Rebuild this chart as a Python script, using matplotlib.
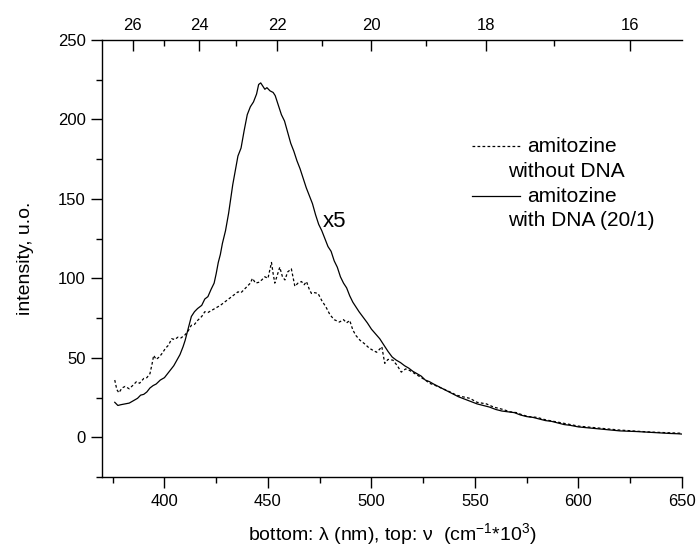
import numpy as np
import matplotlib
matplotlib.use('Agg')
import matplotlib.pyplot as plt
from matplotlib.ticker import MultipleLocator, FixedLocator

plt.rcParams['font.family'] = ['Liberation Sans', 'DejaVu Sans']
plt.rcParams['mathtext.default'] = 'regular'
plt.rcParams['font.size'] = 14

# amitozine with DNA (20/1), x5
wl_dna = [376, 377.5, 379, 381, 383, 385, 387, 388.5, 390, 391.5, 393, 394.5, 396, 398,
          400, 401.5, 403, 404.5, 406, 407.5, 409, 410, 411, 412, 413, 414.5, 416, 418,
          419.5, 421, 422.5, 424, 425, 426, 427, 428, 429.5, 431, 432, 433, 434.5, 435.5,
          437, 438.5, 440, 441.5, 443, 444.5, 445.5, 446.5, 447.5, 448.5, 449.5, 451,
          452.5, 453.5, 455, 456.5, 458, 459.5, 461, 462.5, 464, 465.5, 467, 468.5, 470,
          471.5, 473, 474.5, 476, 477.5, 479, 480.5, 482, 483.5, 485, 486.5, 488, 489.5,
          491, 492.5, 494, 496, 498, 500, 502, 504, 506, 508, 510, 512, 514, 516, 518,
          520, 522, 524, 526, 528, 530, 533, 536, 539, 542, 545, 548, 551, 554, 557, 560,
          563, 566, 569, 572, 575, 578, 581, 584, 587, 590, 593, 596, 600, 604, 608, 612,
          616, 620, 624, 628, 632, 636, 640, 644, 648, 650]
int_dna = [22, 20, 20.5, 21, 21.5, 23, 24.5, 26.5, 27, 28.5, 31, 32.5, 33.5, 36,
           37.5, 40, 42.5, 45, 48.5, 52, 57, 61, 66, 71, 76, 79, 81, 83,
           87, 88.5, 93, 97, 103, 110, 115, 122, 130, 141, 150, 159, 170, 177,
           182, 193, 203, 208, 211, 216, 222, 223, 221, 219, 220, 218,
           217, 215, 209, 203, 199, 192, 185, 180, 174, 169, 163, 157, 152,
           147, 140, 134, 130, 125, 120, 117, 111, 107, 101, 97, 94, 89,
           85, 82, 79, 75.5, 72, 68, 65, 62, 58, 54, 50.5, 48.5, 47, 45, 43.5,
           41.5, 40, 38.5, 36, 35, 33.5, 31.5, 29.5, 27.5, 25.5, 24, 22.5, 21, 20, 19, 17.5,
           16.5, 16, 15.5, 14, 13, 12.5, 11.5, 10.5, 10, 9, 8, 7.5, 6.5, 6, 5.5, 5,
           4.5, 4, 3.8, 3.6, 3.3, 3, 2.7, 2.4, 2.2, 2]

# amitozine without DNA
wl_free = [376, 377, 378, 379.5, 381, 383, 385, 386.5, 388, 390, 391.5, 393, 394, 394.8,
           396, 397.5, 399, 400.5, 402, 403.5, 405, 406.5, 408, 410, 411.5, 413, 414.5,
           416, 418, 419.5, 421, 423, 425, 427, 429, 430.5, 432, 434, 435.5, 437, 438.5,
           440, 441.5, 442.5, 444, 445.5, 447, 448.5, 450, 451.7, 452.5, 453.3, 454.5,
           455.7, 457, 458.2, 459.5, 461.3, 462.2, 463, 464.5, 466.2, 467.5, 468.6, 470,
           471, 472.5, 474.2, 476, 478, 480, 482, 484.5, 486.5, 488, 489.5, 491, 492.5,
           494.5, 496.5, 499, 501, 502.5, 504, 505, 506.4, 508, 510.4, 512.5, 514.4, 516.5,
           518.5, 521, 523.5, 526, 528, 531, 534.5, 538, 541, 544, 547.5, 551, 555.5, 559,
           563.5, 567, 570, 573, 576, 580, 584, 588, 592, 596, 600, 604, 608, 612, 616,
           620, 624, 628, 632, 636, 640, 644, 648, 650]
int_free = [36, 30, 28, 31, 32, 30.5, 33, 35, 34, 37, 37.5, 40, 46, 51.5,
            49, 50.5, 53, 56, 58, 62, 61.5, 63, 62.5, 64.5, 67, 70.5, 71,
            73.5, 76, 79, 78.5, 80, 81.5, 83, 85, 86.5, 88, 90, 91.5, 91, 93,
            95, 97, 100, 97, 97.5, 99, 101, 100, 110, 103, 97, 102,
            107, 101, 99, 104, 106, 100, 95, 97, 98, 96, 98, 93,
            90.5, 91, 90.5, 86, 82, 77, 74, 72.5, 74, 72, 73.5, 67.5, 64,
            61, 59, 56, 54.5, 53.5, 55.5, 57, 46.5, 49, 48.5, 45, 41, 43,
            42, 40, 38, 36, 34, 32.5, 30.5, 28.5, 26.5, 25.5, 24.5, 22, 21, 19,
            17.5, 16, 15.5, 14, 13, 12.5, 11, 10, 9, 8, 7, 6.5, 6, 5.5, 5,
            4.5, 4.2, 3.8, 3.5, 3.2, 3, 2.8, 2.6, 2.5]

top_major = [26, 24, 22, 20, 18, 16]
top_minor = [25, 23, 21, 19, 17]

fig = plt.figure(figsize=(6.99, 5.48), dpi=100)
ax = fig.add_axes([0.1464, 0.1296, 0.8293, 0.7974])

ax.plot(wl_free, int_free, color='black', lw=0.9, ls=(0, (2.2, 1.8)))
ax.plot(wl_dna, int_dna, color='black', lw=0.9)

ax.set_xlim(370, 650)
ax.set_ylim(-25, 250)
ax.xaxis.set_major_locator(MultipleLocator(50))
ax.xaxis.set_minor_locator(MultipleLocator(25))
ax.yaxis.set_major_locator(MultipleLocator(50))
ax.yaxis.set_minor_locator(MultipleLocator(25))
ax.set_yticks([0, 50, 100, 150, 200, 250])
ax.tick_params(which='major', direction='out', length=8, width=1, pad=4, labelsize=12)
ax.tick_params(which='minor', direction='out', length=4, width=1)
ax.spines['right'].set_visible(False)
ax.spines['top'].set_visible(False)
for s in ['left', 'bottom']:
    ax.spines[s].set_linewidth(1)

# top axis: wavenumber in 10^3 cm^-1
top = ax.secondary_xaxis('top', functions=(lambda x: 1e4 / x, lambda x: 1e4 / x))
top.xaxis.set_major_locator(FixedLocator(top_major))
top.xaxis.set_minor_locator(FixedLocator(top_minor))
top.tick_params(which='major', direction='in', length=8, width=1, pad=5, labelsize=12)
top.tick_params(which='minor', direction='in', length=4, width=1)
top.spines['top'].set_linewidth(1)

ax.set_ylabel('intensity, u.o.', labelpad=17)
ax.set_xlabel(r'bottom: λ (nm), top: ν  (cm$^{-1}$*10$^{3}$)', labelpad=9)

ax.text(476.5, 136, 'x5', ha='left', va='center', fontsize=16)

# legend
ax.plot([0.638, 0.721], [0.757, 0.757], transform=ax.transAxes, color='black',
        lw=0.9, ls=(0, (2.2, 1.8)))
ax.text(0.733, 0.757, 'amitozine', transform=ax.transAxes, va='center', fontsize=15)
ax.text(0.700, 0.700, 'without DNA', transform=ax.transAxes, va='center', fontsize=15)
ax.plot([0.638, 0.721], [0.643, 0.643], transform=ax.transAxes, color='black', lw=0.9)
ax.text(0.733, 0.643, 'amitozine', transform=ax.transAxes, va='center', fontsize=15)
ax.text(0.700, 0.586, 'with DNA (20/1)', transform=ax.transAxes, va='center', fontsize=15)

plt.savefig('out.png', dpi=100)
plt.close()
